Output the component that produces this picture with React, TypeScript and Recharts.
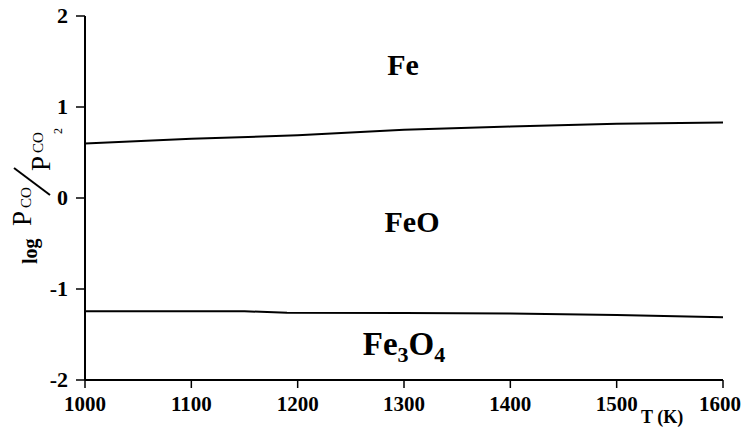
import React from 'react';
import { LineChart, Line, XAxis, YAxis } from 'recharts';

const xTicks = [1000, 1100, 1200, 1300, 1400, 1500, 1600];
const yTicks = [-2, -1, 0, 1, 2];

// Fe / FeO boundary
const feFeoT = [1000, 1100, 1200, 1300, 1400, 1500, 1600];
const feFeoLog = [0.6, 0.65, 0.69, 0.75, 0.785, 0.815, 0.83];

// FeO / Fe3O4 boundary
const feoMagT = [1000, 1150, 1190, 1300, 1400, 1500, 1600];
const feoMagLog = [-1.245, -1.245, -1.26, -1.265, -1.27, -1.285, -1.31];

const feFeoData = feFeoT.map((t, i) => ({ t, v: feFeoLog[i] }));
const feoMagData = feoMagT.map((t, i) => ({ t, v: feoMagLog[i] }));

const FONT = '"Liberation Serif", "Times New Roman", serif';
const serif = { fontFamily: FONT };

const XTick = (props: any) => {
  const { x, y, payload } = props;
  const last = payload.value === xTicks[xTicks.length - 1];
  return (
    <text
      x={last ? 741 : x}
      y={y + 16}
      textAnchor={last ? 'end' : 'middle'}
      fontSize={21}
      fontWeight="bold"
      fill="#000"
      style={serif}
    >
      {payload.value}
    </text>
  );
};

const YTick = (props: any) => {
  const { x, y, payload } = props;
  return (
    <text x={x} y={y + 7} textAnchor="end" fontSize={22} fontWeight="bold" fill="#000" style={serif}>
      {payload.value}
    </text>
  );
};

export default function App() {
  return (
    <div style={{ position: 'absolute', left: 0, top: 0, width: 742, height: 430, background: '#fff', fontFamily: FONT }}>
      <LineChart width={742} height={430} margin={{ top: 16, right: 19, bottom: 0, left: 0 }}>
        <XAxis
          xAxisId="b"
          dataKey="t"
          type="number"
          domain={[1000, 1600]}
          ticks={xTicks}
          height={50}
          tickSize={8}
          tickMargin={7}
          axisLine={{ stroke: '#000', strokeWidth: 2 }}
          tickLine={{ stroke: '#000', strokeWidth: 1.5 }}
          tick={<XTick />}
          allowDataOverflow
        />
        <XAxis
          xAxisId="t"
          orientation="top"
          type="number"
          domain={[1000, 1600]}
          height={0}
          tick={false}
          tickLine={false}
          axisLine={{ stroke: '#000', strokeWidth: 2 }}
        />
        <YAxis
          yAxisId="l"
          type="number"
          domain={[-2, 2]}
          ticks={yTicks}
          width={85}
          tickSize={9}
          tickMargin={8}
          axisLine={{ stroke: '#000', strokeWidth: 2 }}
          tickLine={{ stroke: '#000', strokeWidth: 1.5 }}
          tick={<YTick />}
          allowDataOverflow
        />
        <YAxis
          yAxisId="r"
          orientation="right"
          type="number"
          domain={[-2, 2]}
          width={0}
          tick={false}
          tickLine={false}
          axisLine={{ stroke: '#000', strokeWidth: 2 }}
        />
        <Line
          xAxisId="b"
          yAxisId="l"
          data={feFeoData}
          dataKey="v"
          type="linear"
          stroke="#000"
          strokeWidth={2}
          dot={false}
          isAnimationActive={false}
        />
        <Line
          xAxisId="b"
          yAxisId="l"
          data={feoMagData}
          dataKey="v"
          type="linear"
          stroke="#000"
          strokeWidth={2}
          dot={false}
          isAnimationActive={false}
        />
      </LineChart>
      <svg
        width={742}
        height={430}
        style={{ position: 'absolute', left: 0, top: 0, pointerEvents: 'none', fontFamily: FONT }}
      >
        <text x={403} y={75} textAnchor="middle" fontSize={30} fontWeight="bold" fill="#000" style={serif}>Fe</text>
        <text x={412} y={232} textAnchor="middle" fontSize={30} fontWeight="bold" fill="#000" style={serif}>FeO</text>
        <text x={404} y={355} textAnchor="middle" fontSize={33} fontWeight="bold" fill="#000" style={serif}>
          Fe<tspan fontSize={22} dy={7}>3</tspan>
          <tspan fontSize={33} dy={-7}>O</tspan>
          <tspan fontSize={22} dy={7}>4</tspan>
        </text>
        <text x={641} y={423} fontSize={18} fontWeight="bold" fill="#000" style={serif}>T (K)</text>
        {/* y-axis label: log P_CO / P_CO2 */}
        <text x={37} y={264} transform="rotate(-90 37 264)" fontSize={20} fontWeight="bold" fill="#000" style={serif}>log</text>
        <text x={31} y={226} transform="rotate(-90 31 226)" fontSize={27} fill="#000" style={serif}>P</text>
        <text x={31} y={208} transform="rotate(-90 31 208)" fontSize={15} fill="#000" style={serif}>CO</text>
        <line x1={14} y1={168} x2={50} y2={195} stroke="#000" strokeWidth={2} />
        <text x={50} y={171} transform="rotate(-90 50 171)" fontSize={27} fill="#000" style={serif}>P</text>
        <text x={43} y={153} transform="rotate(-90 43 153)" fontSize={15} fill="#000" style={serif}>CO</text>
        <text x={62} y={134} transform="rotate(-90 62 134)" fontSize={12} fill="#000" style={serif}>2</text>
      </svg>
    </div>
  );
}
